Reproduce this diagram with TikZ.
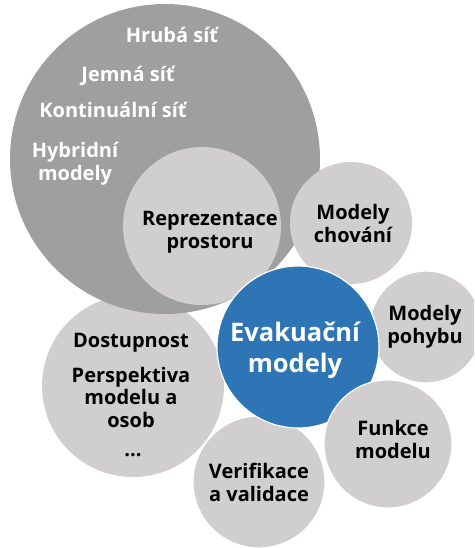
\documentclass[tikz,border=0pt]{standalone}
\usepackage{fontspec}
\setmainfont{Open Sans}
\definecolor{bigGray}{HTML}{9F9F9F}
\definecolor{lightGray}{HTML}{D0CECF}
\definecolor{evacBlue}{HTML}{2E75B6}
\begin{document}
\begin{tikzpicture}[x=1pt,y=-1pt,
  bubble/.style={circle,inner sep=0pt,minimum size=#1},
  rim/.style={draw=white,line width=1.2pt},
  lbl/.style={align=center,anchor=base,font=\fontsize{20}{22.5}\selectfont\bfseries,text=black,inner sep=0pt},
  wlbl/.style={lbl,text=white}]
\useasboundingbox (0,0) rectangle (474,548);
\clip (0,0) rectangle (474,548);
% bubbles, back to front
\node[bubble=182pt,fill=lightGray] (dost) at (133,386) {};
\node[bubble=310pt,fill=bigGray] (big) at (165,159) {};
\node[bubble=158pt,fill=lightGray] (repr) at (202,226) {};
\node[bubble=122pt,fill=lightGray] (chov) at (351,223) {};
\node[bubble=112pt,fill=lightGray,rim] (pohyb) at (426,327) {};
\node[bubble=132pt,fill=lightGray,rim] (verif) at (259,482) {};
\node[bubble=162pt,fill=evacBlue,rim] (evac) at (298,347) {};
\node[bubble=128pt,fill=lightGray,rim] (funk) at (388,444) {};
% labels in the large circle (base = last line)
\node[wlbl] (hruba) at (172,43) {Hrubá síť};
\node[wlbl] (jemna) at (128,82) {Jemná síť};
\node[wlbl] (kont) at (113,118) {Kontinuální síť};
\node[wlbl] (hybr) at (75,180) {Hybridní\\modely};
% labels in the other circles
\node[lbl] (tRepr) at (210,248) {Reprezentace\\prostoru};
\node[lbl] (tChov) at (353,242) {Modely\\chování};
\node[lbl] (tPohyb) at (425,343) {Modely\\pohybu};
\node[lbl] (tFunk) at (393,458) {Funkce\\modelu};
\node[lbl] (tVerif) at (259,501) {Verifikace\\a validace};
\node[lbl] (tDost) at (131,347) {Dostupnost};
\node[lbl] (tPersp) at (131,427) {Perspektiva\\modelu a\\osob};
\node[lbl] (tDots) at (133,456) {...};
\node[wlbl,font=\fontsize{25.5}{31}\selectfont\bfseries] (tEvac) at (295,372) {Evakuační\\modely};
\end{tikzpicture}
\end{document}
